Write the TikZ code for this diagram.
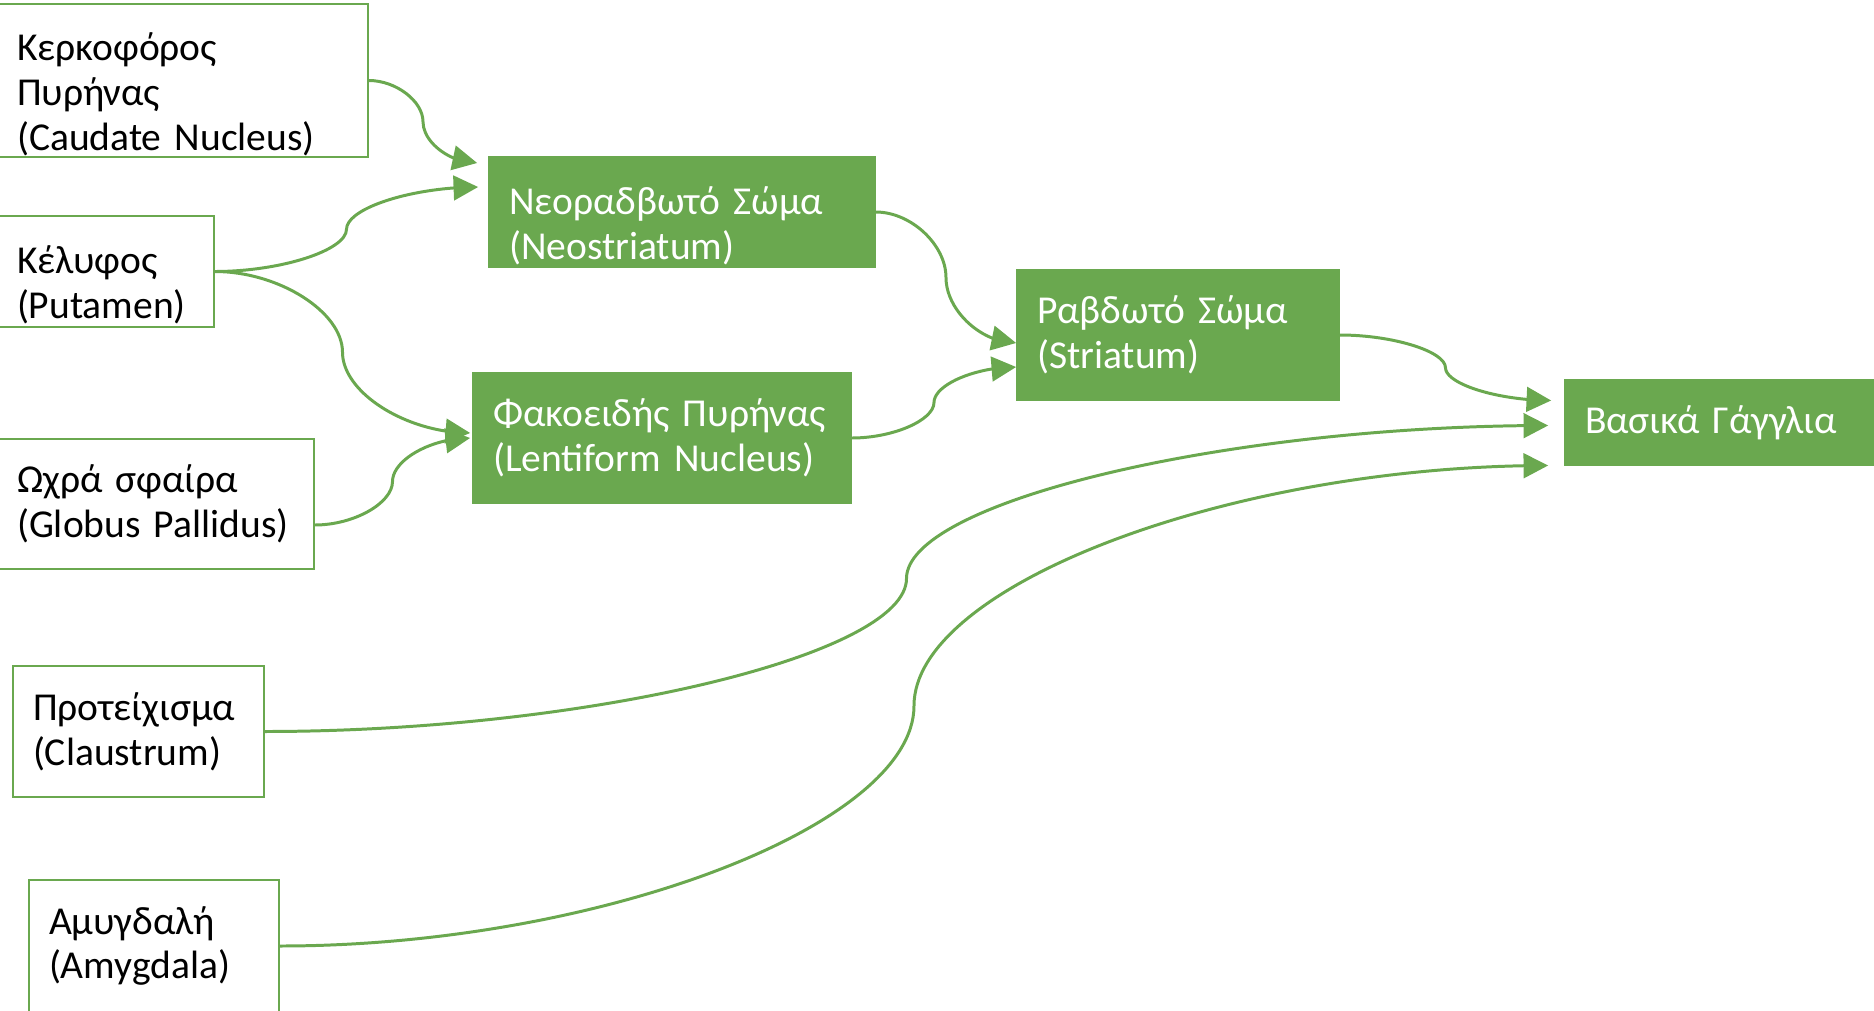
\documentclass[tikz,border=0pt]{standalone}
\usepackage{fontspec}
\setmainfont{Carlito}
\usetikzlibrary{arrows.meta,bending,calc}
\definecolor{leafgreen}{HTML}{6AA84F}

\tikzset{
  part/.style={draw=leafgreen, line width=1pt, fill=white, text=black, align=left,
    inner xsep=0.4cm, inner ysep=0pt, font=\fontsize{22.5}{25.5}\selectfont},
  whole/.style={part, fill=leafgreen, text=white},
  lowtext/.style={execute at begin node={\rule{0pt}{1.1cm}}},
  sbend/.style={to path={let \p1=(\tikztostart), \p2=(\tikztotarget) in
    .. controls ({\x1+(\x2-\x1)/4},\y1) and ({(\x1+\x2)/2},{\y1+(\y2-\y1)/4}) .. ({(\x1+\x2)/2},{(\y1+\y2)/2})
    .. controls ({(\x1+\x2)/2},{\y1+3*(\y2-\y1)/4}) and ({\x1+3*(\x2-\x1)/4},\y2) .. (\tikztotarget)}},
  link/.style={draw=leafgreen, line width=1.7pt, -{Triangle[length=14pt,width=14pt]}, sbend}
}

\begin{document}
\begin{tikzpicture}[x=0.02cm, y=-0.02cm]
  \useasboundingbox (0,0) rectangle (1874,1011);

  % parts
  \node[part, lowtext, text width=6.62cm, minimum height=3.06cm] (caud) at (182.5,80.5) {Κερκοφόρος\\Πυρήνας\\(Caudate Nucleus)};
  \node[part, lowtext, text width=3.54cm, minimum height=2.22cm] (put) at (105.5,271.5) {Κέλυφος\\(Putamen)};
  \node[part, text width=5.54cm, minimum height=2.6cm] (glob) at (155.5,504) {Ωχρά σφαίρα\\(Globus Pallidus)};
  \node[part, text width=4.22cm, minimum height=2.62cm] (clau) at (138.5,731.5) {Προτείχισμα\\(Claustrum)};
  \node[part, text width=4.2cm, minimum height=2.64cm] (amyg) at (154,946) {Αμυγδαλή\\(Amygdala)};

  % groups
  \node[whole, lowtext, text width=6.92cm, minimum height=2.2cm] (neo) at (682,212) {Νεοραδβωτό Σώμα\\(Neostriatum)};
  \node[whole, text width=6.76cm, minimum height=2.6cm] (lent) at (662,438) {Φακοειδής Πυρήνας\\(Lentiform Nucleus)};
  \node[whole, text width=5.64cm, minimum height=2.6cm] (stri) at (1178,335) {Ραβδωτό Σώμα\\(Striatum)};
  \node[whole, text width=5.36cm, minimum height=1.7cm] (bas) at (1719,422.5) {Βασικά Γάγγλια};

  % connectors
  \draw[link] (caud.east) to ($(neo.west)+(-11,-49)$);
  \draw[link] (put.east) to ($(neo.west)+(-10,-25)$);
  \draw[link] (put.east) to ($(lent.west)+(-2,-5)$);
  \draw[link] ($(glob.east)+(0,21)$) to ($(lent.west)+(-2,0)$);
  \draw[link] (neo.east) to ($(stri.west)+(0,8)$);
  \draw[link] (lent.east) to ($(stri.west)+(0,32)$);
  \draw[link] (stri.east) to ($(bas.west)+(-13,-22)$);
  \draw[link] (clau.east) to ($(bas.west)+(-16,3)$);
  \draw[link] (amyg.east) to ($(bas.west)+(-16,43)$);
\end{tikzpicture}
\end{document}
